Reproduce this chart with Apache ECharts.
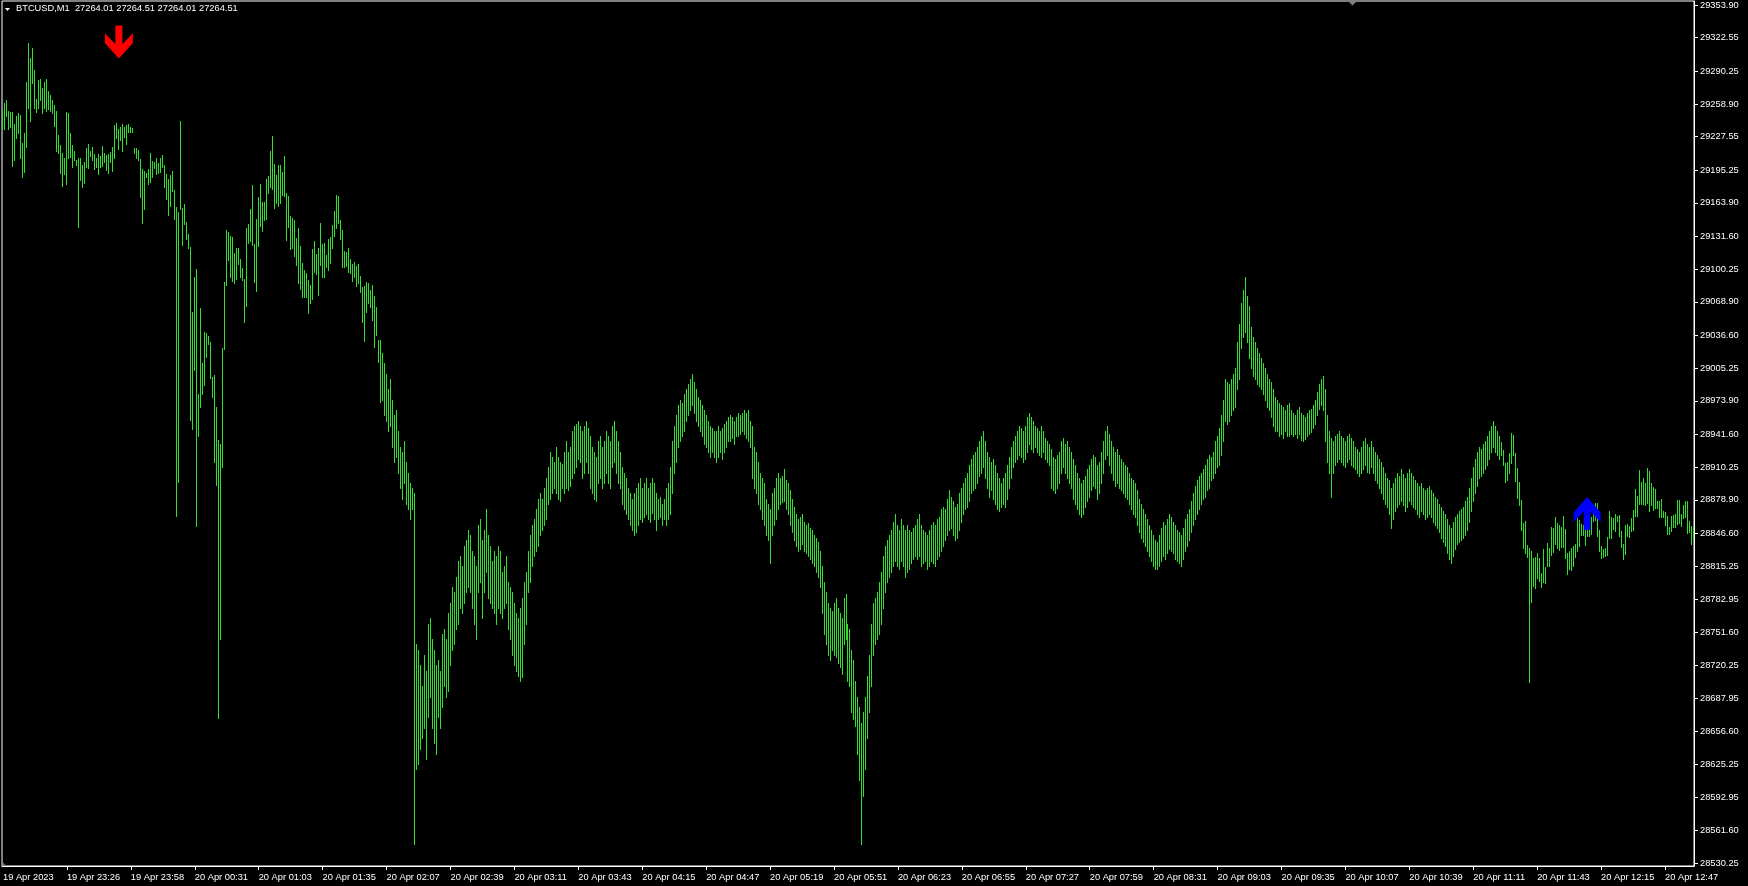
<!DOCTYPE html>
<html>
<head>
<meta charset="utf-8">
<script src="https://cdn.jsdelivr.net/npm/echarts@6/dist/echarts.min.js"></script>
<style>
html,body{margin:0;padding:0;background:#000;}
#chart{width:1748px;height:886px;}
</style>
</head>
<body>
<div id="chart"></div>
<script>
const title = 'BTCUSD,M1  27264.01 27264.51 27264.01 27264.51';
const barCount = 847;
const timeLabels = ['19 Apr 2023','19 Apr 23:26','19 Apr 23:58','20 Apr 00:31','20 Apr 01:03','20 Apr 01:35','20 Apr 02:07','20 Apr 02:39','20 Apr 03:11','20 Apr 03:43','20 Apr 04:15','20 Apr 04:47','20 Apr 05:19','20 Apr 05:51','20 Apr 06:23','20 Apr 06:55','20 Apr 07:27','20 Apr 07:59','20 Apr 08:31','20 Apr 09:03','20 Apr 09:35','20 Apr 10:07','20 Apr 10:39','20 Apr 11:11','20 Apr 11:43','20 Apr 12:15','20 Apr 12:47'];
const labelStep = 32;
const priceTicks = [29353.90,29322.55,29290.25,29258.90,29227.55,29195.25,29163.90,29131.60,29100.25,29068.90,29036.60,29005.25,28973.90,28941.60,28910.25,28878.90,28846.60,28815.25,28782.95,28751.60,28720.25,28687.95,28656.60,28625.25,28592.95,28561.60,28530.25];
const priceMin = 28527.34, priceMax = 29357.74;

const highs = [
29253.1,29260.1,29262.7,29252.1,29250.9,29251.5,29239.3,29247.3,29249.9,29248.3,
29221.1,29230.7,29279.7,29317.1,29303.0,29312.6,29291.5,29263.7,29281.9,29282.9,
29273.9,29280.3,29282.9,29271.3,29267.5,29262.7,29257.9,29252.1,29229.1,29219.5,
29211.5,29206.7,29251.5,29249.9,29230.7,29219.5,29214.1,29205.1,29207.0,29206.7,
29200.3,29203.5,29216.6,29220.5,29214.1,29217.3,29210.9,29207.3,29210.9,29208.9,
29218.5,29212.1,29209.9,29210.9,29212.5,29217.9,29238.7,29240.3,29235.2,29236.8,
29239.7,29237.1,29238.7,29239.7,29237.1,29235.5,29216.9,29216.3,29214.7,29206.1,
29196.5,29194.9,29192.9,29196.5,29212.1,29204.1,29203.5,29207.3,29201.9,29207.3,
29209.9,29200.3,29191.7,29187.2,29190.7,29194.5,29176.3,29159.7,29155.5,29242.5,
29158.7,29162.9,29145.6,29134.1,29121.9,29059.2,29093.1,29100.5,28980.5,29063.0,
29009.9,29040.3,29038.7,29036.1,29030.1,28996.8,28998.7,28968.3,28936.3,28932.5,
29024.3,29087.7,29137.9,29136.0,29132.1,29130.9,29116.1,29120.3,29120.3,29110.1,
29101.1,29090.5,29139.5,29143.7,29158.1,29181.1,29124.5,29148.5,29169.3,29182.1,
29165.1,29165.1,29186.5,29189.7,29213.7,29228.1,29201.3,29190.7,29200.3,29200.3,
29193.9,29208.9,29173.7,29170.5,29151.3,29149.1,29147.5,29129.9,29140.1,29122.5,
29105.9,29099.5,29096.3,29089.9,29085.1,29119.7,29127.7,29114.5,29120.9,29144.9,
29124.5,29125.7,29113.9,29129.3,29131.5,29142.7,29156.5,29171.5,29170.5,29147.5,
29137.9,29117.7,29116.5,29120.9,29110.1,29105.3,29106.9,29103.3,29105.3,29094.1,
29083.5,29084.5,29087.7,29086.7,29080.3,29085.1,29074.9,29064.3,29032.3,29032.3,
29020,29010,29000,28985,28995,28975,28960,28965,28945,28930,
28925,28935,28915,28905,28895,28890,28885,28740,28735,28720,
28700,28730,28715,28760,28765,28745,28735,28720,28725,28715,
28750,28755,28745,28770,28780,28795,28790,28805,28820,28825,
28815,28835,28840,28850,28845,28830,28825,28815,28855,28860,
28840,28850,28870,28845,28835,28820,28830,28825,28835,28830,
28810,28815,28825,28800,28795,28790,28780,28770,28765,28775,
28785,28800,28810,28830,28845,28855,28860,28870,28880,28885,
28880,28890,28900,28910,28925,28920,28915,28930,28920,28915,
28913,28925,28935,28925,28930,28945,28950,28952,28955,28950,
28945,28950,28955,28948,28940,28930,28925,28920,28935,28940,
28930,28935,28945,28940,28935,28950,28955,28945,28935,28925,
28910,28905,28900,28890,28885,28880,28885,28890,28895,28900,
28890,28895,28900,28890,28895,28900,28895,28885,28880,28882,
28875,28880,28890,28895,28910,28935,28950,28960,28970,28975,
28972,28980,28985,28990,28995,29000,28992,28985,28978,28975,
28970,28965,28960,28955,28950,28948,28945,28945,28950,28945,
28948,28952,28955,28958,28960,28958,28955,28958,28962,28960,
28962,28965,28962,28965,28955,28950,28930,28925,28915,28905,
28900,28895,28880,28875,28870,28885,28890,28900,28905,28900,
28902,28908,28898,28895,28888,28880,28872,28865,28860,28862,
28865,28858,28855,28857,28852,28850,28845,28842,28838,28830,
28815,28800,28790,28780,28775,28772,28780,28785,28775,28770,
28765,28785,28788,28760,28755,28735,28725,28705,28690,28680,
28665,28675,28690,28710,28730,28760,28780,28785,28790,28800,
28810,28825,28835,28840,28845,28850,28858,28865,28855,28850,
28860,28855,28850,28855,28850,28848,28852,28855,28860,28865,
28855,28850,28848,28845,28850,28855,28858,28855,28860,28862,
28870,28872,28870,28880,28888,28882,28878,28872,28875,28885,
28890,28895,28900,28905,28912,28918,28922,28925,28930,28935,
28940,28945,28935,28925,28920,28915,28918,28912,28905,28900,
28895,28900,28905,28912,28920,28930,28935,28940,28945,28950,
28948,28945,28950,28958,28962,28958,28955,28950,28948,28945,
28950,28945,28938,28935,28932,28928,28920,28918,28922,28925,
28935,28938,28932,28935,28930,28925,28918,28912,28905,28900,
28895,28898,28902,28908,28912,28918,28922,28920,28912,28915,
28925,28935,28945,28950,28942,28935,28930,28925,28928,28922,
28918,28915,28912,28910,28905,28900,28898,28895,28888,28880,
28875,28870,28865,28860,28855,28850,28845,28840,28838,28845,
28852,28858,28855,28860,28865,28862,28858,28855,28850,28848,
28845,28852,28860,28865,28870,28878,28885,28892,28898,28902,
28905,28908,28912,28918,28922,28920,28925,28935,28940,28948,
28960,28975,28995,28992,28990,28995,29000,29005,29030,29048,
29068,29080,29093,29075,29065,29045,29035,29030,29025,29020,
29015,29010,29005,29000,28995,28992,28985,28978,28975,28972,
28970,28968,28965,28970,28972,28965,28962,28960,28965,28968,
28962,28960,28958,28962,28965,28966,28970,28975,28982,28990,
28995,28998,28985,28960,28945,28938,28935,28940,28942,28945,
28940,28938,28935,28940,28942,28938,28935,28930,28928,28925,
28930,28935,28938,28932,28930,28935,28930,28925,28922,28918,
28915,28910,28905,28900,28898,28890,28895,28900,28905,28902,
28908,28904,28900,28905,28908,28905,28902,28898,28895,28892,
28895,28890,28888,28890,28892,28888,28885,28882,28880,28875,
28872,28868,28865,28860,28855,28852,28858,28862,28865,28868,
28870,28872,28878,28882,28890,28900,28910,28918,28925,28930,
28928,28932,28935,28940,28945,28950,28955,28950,28945,28940,
28934.7,28926.7,28913.9,28915.5,28923.5,28942.7,28941.1,28923.5,28909.1,28896.3,
28878.7,28856.3,28858.5,28835.5,28833.0,28829.7,28822.7,28824.3,28827.5,28822.7,
28808.3,28831.7,28814.7,28837.7,28832.3,28852.5,28851.5,28862.1,28856.3,28854.7,
28852.5,28863.3,28850.5,28827.5,28829.7,28832.3,28834.5,28836.5,28863.3,28859.5,
28855.7,28854.7,28849.9,28853.1,28856.3,28862.7,28867.5,28875.5,28876.1,28849.9,
28834.5,28831.7,28833.0,28842.9,28868.1,28862.1,28861.7,28865.3,28863.7,28864.3,
28849.3,28836.1,28854.7,28855.3,28853.7,28861.1,28869.1,28888.9,28882.5,28907.5,
28896.3,28899.5,28894.7,28909.1,28906.5,28895.3,28891.5,28888.9,28877.7,28878.1,
28879.3,28868.1,28867.5,28863.3,28852.5,28863.3,28864.3,28865.3,28878.7,28878.7,
28865.3,28873.9,28877.7,28877.7,28858.5,28853.7,28853.7
];
const lows = [
29234.9,29234.9,29247.3,29234.9,29237.1,29199.3,29205.1,29226.5,29230.7,29207.0,
29189.1,29193.9,29217.9,29254.7,29242.9,29278.7,29255.3,29250.9,29254.7,29262.7,
29249.9,29254.7,29252.1,29253.7,29252.1,29249.9,29237.7,29214.1,29211.5,29192.3,
29180.5,29191.7,29182.1,29206.7,29208.3,29198.7,29205.1,29200.3,29141.1,29185.9,
29178.9,29182.7,29198.7,29197.1,29208.9,29205.1,29196.1,29198.7,29191.3,29198.7,
29199.7,29203.5,29195.5,29192.9,29203.5,29194.9,29206.7,29226.5,29215.7,29224.3,
29214.1,29227.5,29220.1,29232.3,29231.7,29232.3,29212.1,29207.3,29205.1,29169.9,
29144.3,29158.4,29189.1,29181.7,29184.3,29189.1,29197.7,29191.7,29192.9,29193.3,
29198.7,29178.9,29167.3,29152.0,29161.3,29175.7,29148.1,28863.7,28896.3,29157.7,
29123.5,29143.7,29129.3,29120.9,28955.5,28946.9,29003.5,28854.1,28940.5,28968.3,
28980.5,28989.1,29016.3,29028.5,28996.1,28977.9,28915.5,28893.1,28669.7,28745.3,
28910.7,29024.0,29085.1,29109.1,29093.1,29088.9,29086.7,29090.5,29105.3,29093.1,
29089.9,29049.3,29065.3,29125.7,29127.7,29123.5,29088.3,29079.7,29122.5,29141.7,
29136.9,29147.5,29148.5,29173.7,29179.5,29177.3,29159.3,29164.1,29160.9,29164.1,
29171.5,29170.5,29128.3,29141.1,29120.0,29120.3,29112.9,29104.3,29086.7,29081.3,
29073.9,29073.9,29073.9,29057.9,29067.5,29071.7,29097.9,29095.7,29075.5,29104.3,
29092.5,29092.5,29102.7,29099.5,29106.5,29120.9,29132.5,29139.5,29144.3,29129.6,
29102.7,29102.1,29103.3,29097.9,29096.3,29088.9,29092.5,29084.5,29086.7,29078.7,
29049.9,29031.7,29059.5,29067.5,29063.7,29051.5,29025.9,29037.1,29010.9,28973.1,
28975,28960,28955,28945,28950,28930,28915,28920,28905,28890,
28880,28895,28875,28870,28860,28870,28548,28620,28625,28640,
28650,28660,28630,28670,28690,28660,28645,28635,28670,28660,
28680,28700,28690,28695,28720,28735,28740,28755,28760,28775,
28770,28780,28790,28795,28790,28775,28760,28745,28790,28800,
28765,28790,28810,28785,28780,28775,28770,28760,28775,28770,
28765,28775,28780,28755,28745,28730,28720,28715,28710,28705,
28709,28740,28760,28790,28800,28815,28825,28830,28835,28845,
28850,28855,28860,28875,28880,28885,28890,28885,28880,28878,
28890,28885,28890,28888,28892,28900,28905,28910,28918,28915,
28900,28905,28915,28905,28890,28885,28880,28878,28895,28900,
28890,28895,28905,28895,28890,28910,28915,28905,28895,28890,
28875,28870,28865,28860,28855,28850,28845,28848,28855,28860,
28858,28862,28865,28860,28858,28866,28860,28850,28860,28862,
28855,28860,28855,28860,28865,28885,28905,28915,28930,28935,
28940,28945,28955,28960,28965,28970,28962,28955,28950,28945,
28940,28932,28930,28925,28920,28925,28920,28915,28920,28925,
28918,28925,28930,28935,28935,28938,28932,28940,28940,28942,
28945,28942,28938,28935,28930,28900,28890,28885,28875,28870,
28860,28855,28845,28840,28818,28845,28855,28860,28870,28875,
28877,28878,28870,28865,28855,28848,28840,28835,28830,28832,
28836,28830,28828,28825,28822,28818,28815,28810,28805,28795,
28770,28750,28740,28730,28725,28735,28730,28728,28722,28718,
28712,28740,28745,28705,28700,28675,28668,28662,28635,28610,
28548,28595,28620,28650,28675,28700,28730,28740,28745,28750,
28760,28775,28790,28800,28805,28810,28815,28820,28815,28812,
28820,28815,28805,28810,28812,28818,28822,28825,28822,28825,
28815,28818,28820,28812,28815,28820,28818,28815,28822,28825,
28830,28835,28840,28845,28850,28852,28845,28840,28842,28850,
28858,28865,28870,28872,28878,28885,28888,28890,28895,28902,
28905,28910,28900,28890,28882,28888,28880,28875,28870,28868,
28872,28875,28872,28880,28890,28900,28910,28915,28918,28922,
28920,28915,28918,28925,28932,28928,28925,28930,28925,28922,
28920,28925,28918,28915,28912,28890,28888,28885,28890,28895,
28905,28910,28905,28900,28895,28890,28880,28875,28870,28865,
28862,28865,28872,28878,28882,28888,28892,28890,28880,28885,
28895,28905,28918,28922,28912,28905,28898,28892,28895,28890,
28888,28885,28882,28880,28875,28870,28865,28862,28855,28848,
28842,28838,28835,28830,28825,28820,28815,28812,28812,28815,
28820,28825,28822,28828,28832,28830,28828,28822,28820,28818,
28815,28822,28830,28835,28840,28848,28855,28860,28865,28870,
28875,28880,28882,28888,28890,28898,28900,28905,28910,28912,
28922,28935,28955,28952,28955,28960,28965,28968,28985,28995,
29025,29035,29040,29030,29015,29005,28998,28995,28990,28988,
28985,28980,28975,28968,28965,28958,28950,28945,28945,28940,
28942,28938,28945,28940,28940,28942,28940,28942,28938,28942,
28936,28935,28937,28940,28942,28944,28948,28952,28960,28966,
28970,28965,28935,28915,28905,28882,28905,28912,28915,28918,
28915,28912,28910,28915,28918,28912,28910,28908,28905,28902,
28905,28908,28912,28906,28905,28910,28905,28898,28895,28890,
28885,28880,28875,28872,28865,28852,28860,28868,28872,28875,
28878,28874,28868,28872,28878,28875,28872,28870,28865,28862,
28868,28865,28860,28862,28865,28862,28858,28855,28852,28848,
28842,28838,28835,28828,28822,28818,28825,28832,28836,28838,
28840,28842,28845,28850,28858,28868,28878,28885,28892,28900,
28902,28905,28908,28912,28918,28925,28930,28925,28922,28918,
28921.9,28912.3,28896.3,28897.9,28904.9,28913.9,28921.9,28897.3,28880.3,28873.9,
28849.9,28832.3,28828.1,28824.3,28703.8,28781.1,28796.5,28793.9,28803.5,28801.3,
28794.9,28800.3,28798.7,28815.3,28815.3,28825.9,28829.1,28836.5,28832.3,28830.7,
28833.9,28833.9,28822.7,28807.7,28812.1,28811.5,28815.3,28823.7,28830.1,28834.5,
28845.1,28845.1,28835.5,28844.5,28844.5,28846.1,28858.9,28859.5,28844.5,28829.7,
28823.3,28824.3,28824.9,28825.9,28842.5,28841.9,28850.5,28849.3,28858.9,28844.1,
28833.3,28822.1,28826.9,28844.5,28843.5,28849.3,28849.9,28863.7,28863.7,28874.9,
28874.5,28874.5,28873.9,28875.5,28868.5,28873.9,28869.1,28870.7,28870.7,28862.1,
28862.1,28862.1,28854.7,28846.1,28846.1,28848.9,28853.1,28852.5,28855.7,28856.3,
28853.7,28861.7,28862.1,28847.3,28848.3,28836.1,28841.3
];
const sellArrow = {index: 58, price: 29302.5};
const buyArrow = {index: 793, price: 28881.6};

const barColor = '#2fe02f';
const textColor = '#ffffff';
const fontFamily = '"Liberation Sans", Arial, sans-serif';

const categories = Array.from({length: barCount}, (_, i) => i);
const barData = highs.map((h, i) => [i, h, lows[i]]);

const chart = echarts.init(document.getElementById('chart'), null, {renderer: 'canvas'});

function renderBar(params, api) {
  const i = api.value(0);
  const p1 = api.coord([i, api.value(1)]);
  const p2 = api.coord([i, api.value(2)]);
  const x = Math.round(p1[0] - 0.5);
  const y1 = Math.round(p1[1]);
  const y2 = Math.round(p2[1]);
  return {
    type: 'rect',
    shape: {x: x, y: y1, width: 1, height: Math.max(1, y2 - y1 + 1)},
    style: {fill: barColor}
  };
}

const showLabel = (idx) => idx % labelStep === 0;
const showTick = (idx) => idx > 0 && idx % labelStep === 0;

chart.setOption({
  backgroundColor: '#000000',
  animation: false,
  grid: {left: 0, top: 1, right: 54, bottom: 20, show: true, borderColor: '#ffffff', borderWidth: 1, backgroundColor: '#000000'},
  xAxis: {
    type: 'category',
    data: categories,
    boundaryGap: true,
    axisLine: {show: true, lineStyle: {color: '#ffffff', width: 1}},
    axisTick: {show: true, interval: showTick, alignWithLabel: true, length: 4, lineStyle: {color: '#ffffff'}},
    axisLabel: {
      show: true, interval: showLabel,
      formatter: (v, idx) => timeLabels[idx / labelStep] || '',
      color: textColor, fontFamily: fontFamily, fontSize: 9.3,
      align: 'left', margin: 7
    },
    splitLine: {show: false}
  },
  yAxis: {
    type: 'value',
    position: 'right',
    min: priceMin, max: priceMax,
    scale: true,
    axisLine: {show: true, lineStyle: {color: '#ffffff', width: 1}},
    axisTick: {show: true, customValues: priceTicks, length: 4, lineStyle: {color: '#ffffff'}},
    axisLabel: {
      show: true, customValues: priceTicks,
      formatter: (v) => Number(v).toFixed(2),
      color: textColor, fontFamily: fontFamily, fontSize: 9.3, margin: 6
    },
    splitLine: {show: false}
  },
  graphic: [
    {type: 'polygon', shape: {points: [[5, 8], [10, 8], [7.5, 11]]}, style: {fill: '#ffffff'}},
    {type: 'text', left: 16, top: 4, style: {text: title, fill: textColor, font: '9.3px "Liberation Sans", Arial, sans-serif'}},
    {type: 'polygon', shape: {points: [[1348, 1], [1357, 1], [1352.5, 5.5]]}, style: {fill: '#808080'}},
    {type: 'polygon', shape: {points: [[1, 860], [1, 866], [6, 866]]}, style: {fill: '#808080'}}
  ],
  series: [
    {
      type: 'custom',
      renderItem: renderBar,
      data: barData,
      encode: {x: 0, y: [1, 2]},
      clip: true,
      silent: true
    },
    {
      type: 'scatter',
      data: [[sellArrow.index, sellArrow.price]],
      symbol: 'path://M10.5,0L17.5,0L17.5,18L28,7.5L28,17L14,32L0,17L0,7.5L10.5,18Z',
      symbolSize: [28, 33],
      symbolOffset: [0, -16.5],
      itemStyle: {color: '#ff0000', opacity: 1},
      silent: true, z: 5
    },
    {
      type: 'scatter',
      data: [[buyArrow.index, buyArrow.price]],
      symbol: 'path://M14,0L28,15L28,24.5L17.5,14L17.5,32L10.5,32L10.5,14L0,24.5L0,15Z',
      symbolSize: [27, 33],
      symbolOffset: [0, 16.5],
      itemStyle: {color: '#0000ff', opacity: 1},
      silent: true, z: 5
    }
  ]
});
</script>
</body>
</html>
